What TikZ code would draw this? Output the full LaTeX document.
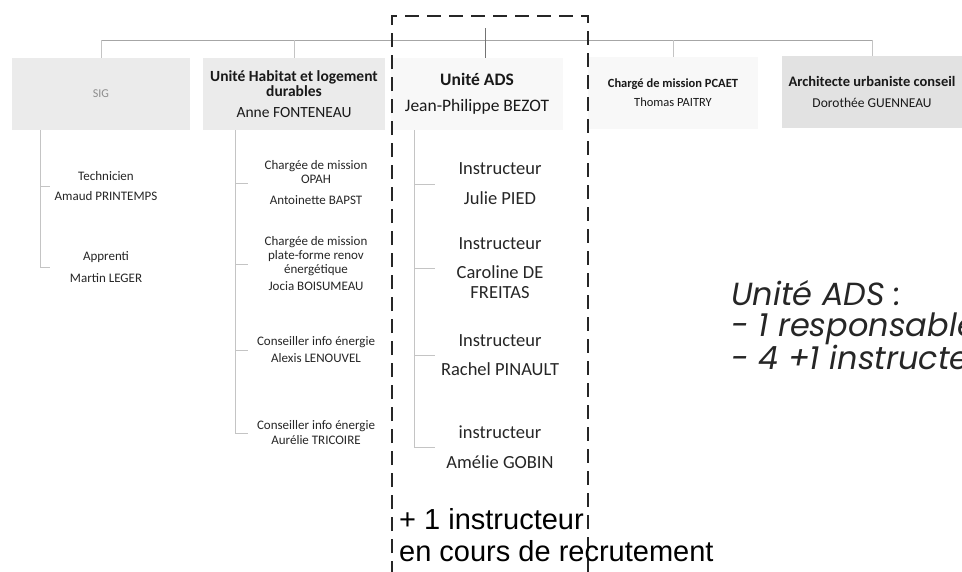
\documentclass[tikz,border=0pt]{standalone}
\usepackage{fontspec}
\setmainfont{Carlito}
\newfontfamily\arialfont{Liberation Sans}
\newfontfamily\gothicfont{Poppins}
\usetikzlibrary{positioning}
\newcommand\ChartUnit{1pt}
\newcommand\Fs[2]{\fontsize{#1}{#2}\selectfont}
\definecolor{lien}{HTML}{C4C4C4}
\definecolor{grisA}{HTML}{EBEBEB}
\definecolor{grisB}{HTML}{E2E2E2}
\definecolor{grisC}{HTML}{F8F8F8}
\tikzset{
  every picture/.style = {x=\ChartUnit, y=-\ChartUnit},
  service/.style={
    shape = rectangle,
    inner sep = 0pt,
    minimum height = 72pt,
    align = center,
    text = black!90
  },
  agent/.style={
    shape = rectangle,
    inner sep = 0pt,
    minimum height = 40pt,
    align = center,
    text = black!85
  },
  petit/.style={font=\Fs{13}{14}},
  moyen/.style={font=\Fs{18.5}{23}},
  trait/.style={draw=lien, line width=0.9pt},
  cadre/.style={draw=black!85, line width=2.4pt, dash pattern=on 14pt off 8pt}
}

\begin{document}
\begin{tikzpicture}
    \useasboundingbox (0,0) rectangle (962,571);
    \fill[white] (0,0) rectangle (962,571);

    % services
    \node[service, fill=grisA, minimum width=178pt, text=black!45, font=\Fs{12}{14}] (sig) at (101,94) {SIG};
    \node[service, fill=grisA, minimum width=182pt, font=\Fs{15.5}{15}] (habitat) at (294,94)
        {\textbf{Unité Habitat et logement}\\\textbf{durables}\\[6pt]Anne FONTENEAU};
    \node[service, fill=grisC, minimum width=172pt, font=\Fs{17.5}{20}] (ads) at (477,94)
        {\textbf{Unité ADS}\\[6pt]Jean-Philippe BEZOT};
    \node[service, fill=grisC, minimum width=170pt, font=\Fs{12.5}{19}] (pcaet) at (673,93)
        {\textbf{Chargé de mission PCAET}\\Thomas PAITRY};
    \node[service, fill=grisB, minimum width=180pt, font=\Fs{13.5}{21}] (archi) at (872,92)
        {\textbf{\Fs{14.5}{21}Architecte urbaniste conseil}\\Dorothée GUENNEAU};

    % liaisons hautes
    \coordinate (bus) at (0,40);
    \coordinate (haut) at (485,28);
    \draw[trait, draw=black!35] (sig.north |- bus) -- (archi.north |- bus);
    \foreach \s in {sig,habitat,pcaet,archi}
        \draw[trait] (\s.north |- bus) -- (\s.north);
    \draw[trait, draw=black!55] (haut) -- (haut |- ads.north);

    % SIG
    \node[agent, petit, minimum width=112pt] (sig1) at (106,186) {Technicien\\[6pt]Amaud PRINTEMPS};
    \node[agent, petit, minimum width=112pt] (sig2) at (106,267) {Apprenti\\[8pt]Martin LEGER};
    \coordinate (sigT) at (40,130);
    \draw[trait] (sigT) |- (sig1.west);
    \draw[trait] (sigT) |- (sig2.west);

    % Habitat
    \node[agent, petit, minimum width=136pt] (hab1) at (316,183) {Chargée de mission\\OPAH\\[7pt]Antoinette BAPST};
    \node[agent, petit, minimum width=136pt] (hab2) at (316,264) {Chargée de mission\\plate-forme renov\\énergétique\\[3pt]Jocia BOISUMEAU};
    \node[agent, petit, minimum width=136pt] (hab3) at (316,350) {Conseiller info énergie\\[3pt]Alexis LENOUVEL};
    \node[agent, petit, minimum width=136pt] (hab4) at (316,433) {Conseiller info énergie\\[1pt]Aurélie TRICOIRE};
    \coordinate (habT) at (235,130);
    \foreach \h in {1,...,4}
        \draw[trait] (habT) |- (hab\h.west);

    % ADS
    \node[agent, moyen, minimum width=130pt] (ins1) at (500,184) {Instructeur\\[7pt]Julie PIED};
    \node[agent, moyen, minimum width=130pt] (ins2) at (500,268) {Instructeur\\[6pt]Caroline DE\\[-3pt]FREITAS};
    \node[agent, moyen, minimum width=130pt] (ins3) at (500,355) {Instructeur\\[6pt]Rachel PINAULT};
    \node[agent, moyen, minimum width=130pt] (ins4) at (500,447) {instructeur\\[7pt]Amélie GOBIN};
    \coordinate (adsT) at (414,130);
    \foreach \i in {1,...,4}
        \draw[trait] (adsT) |- (ins\i.west);

    % cadre ADS
    \coordinate (cadreG) at (392,575);
    \coordinate (cadreD) at (588,16);
    \draw[cadre] (cadreG) |- (cadreD) -- (cadreD |- cadreG);

    \node[anchor=west, align=left, inner sep=0pt, font=\arialfont\Fs{29}{32}] (recrut) at (399,535)
        {+ 1 instructeur\\en cours de recrutement};

    \node[anchor=west, align=left, inner sep=0pt, text=black!85, font=\gothicfont\itshape\Fs{32}{31}] (bilan) at (731,325)
        {Unité ADS :\\- 1 responsable\\- 4 +1 instructeurs};
\end{tikzpicture}
\end{document}
